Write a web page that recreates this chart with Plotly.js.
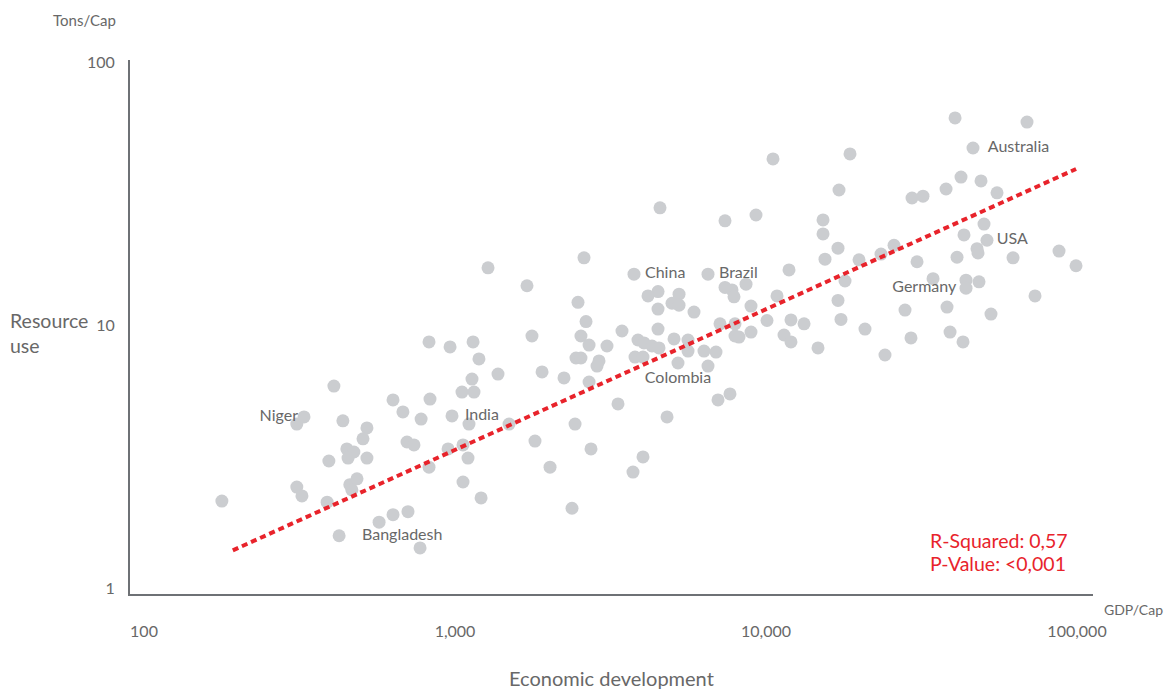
<!DOCTYPE html>
<html>
<head>
<meta charset="utf-8">
<script src="https://cdn.plot.ly/plotly-3.0.1.min.js"></script>
<style>
  html, body { margin: 0; padding: 0; background: #ffffff; }
  #chart { width: 1165px; height: 689px; }
</style>
</head>
<body>
<div id="chart"></div>
<script>
// GDP per capita (US$) and resource use (tons per capita)
const gdp = [
  178, 310, 327, 310, 322, 408, 393, 388, 424, 436,
  449, 473, 453, 521, 506, 521, 459, 484, 466, 570,
  632, 706, 772, 632, 680, 778, 831, 701, 738, 950,
  1061, 1101, 825, 1061, 1213, 978, 1109, 1492, 1053, 1151,
  1134, 1375, 1194, 825, 964, 1143, 1277, 2599, 1704, 2486,
  2638, 1768, 2541, 2698, 3081, 3443, 2449, 2541, 2904, 2862,
  1905, 2241, 2698, 2432, 1808, 2737, 2021, 2378, 3343, 4806,
  4022, 3735, 3763, 6509, 11857, 4496, 4174, 5252, 4985, 5252,
  4496, 5868, 4496, 7382, 7776, 7891, 8625, 8949, 10850, 7113,
  7949, 7949, 8189, 8949, 10074, 12030, 13253, 11427, 12030, 14696,
  3876, 4052, 4299, 4529, 3791, 4022, 5061, 5614, 5614, 6318,
  6906, 5212, 6509, 7009, 7659, 10531, 18625, 17168, 4562, 7382,
  9286, 15253, 15253, 17040, 15478, 29480, 31970, 25800, 23430, 19910,
  30590, 34440, 17950, 17040, 17420, 20810, 27990, 29250, 24130, 40540,
  69060, 46300, 42360, 49130, 37920, 55310, 50230, 43310, 51350, 47700,
  48050, 41130, 62270, 87530, 99270, 43960, 43960, 48400, 73280, 38200,
  52890, 39060, 43000
];
const resource = [
  2.14, 4.20, 4.47, 2.42, 2.24, 5.86, 3.04, 2.12, 1.58, 4.32,
  3.38, 3.29, 3.12, 4.06, 3.69, 3.12, 2.47, 2.60, 2.36, 1.78,
  1.90, 1.95, 1.42, 5.19, 4.67, 4.39, 5.23, 3.59, 3.50, 3.38,
  3.50, 3.12, 2.88, 2.53, 2.20, 4.51, 4.20, 4.20, 5.56, 5.56,
  6.23, 6.51, 7.43, 8.62, 8.25, 8.62, 16.5, 18.0, 14.1, 12.2,
  10.3, 9.08, 9.08, 8.39, 8.32, 9.49, 7.49, 7.49, 7.30, 6.98,
  6.63, 6.29, 6.07, 4.20, 3.62, 3.38, 2.88, 2.01, 5.01, 4.47,
  3.15, 2.76, 15.6, 15.6, 16.2, 13.4, 12.9, 13.1, 12.1, 11.9,
  11.5, 11.2, 9.65, 13.9, 13.6, 12.8, 14.3, 11.8, 12.9, 10.1,
  10.1, 9.08, 9.00, 9.40, 10.4, 10.45, 10.1, 9.16, 8.62, 8.18,
  8.77, 8.55, 8.32, 8.18, 7.55, 7.55, 8.85, 8.77, 7.96, 7.96,
  7.89, 7.17, 6.98, 5.19, 5.47, 42.8, 44.7, 32.6, 27.9, 24.9,
  26.2, 25.1, 22.2, 19.6, 17.8, 30.4, 30.9, 20.1, 18.6, 17.7,
  17.4, 15.0, 14.7, 12.4, 10.5, 9.65, 11.4, 8.93, 7.69, 61.3,
  59.1, 47.1, 36.5, 35.3, 32.9, 31.8, 24.2, 22.0, 21.0, 19.5,
  18.8, 18.1, 18.0, 19.1, 16.8, 14.8, 13.8, 14.6, 12.9, 11.7,
  11.0, 9.40, 8.62
];

// Labelled countries
const labelNames = ["Niger", "India", "Bangladesh", "China", "Brazil", "Colombia", "Germany", "USA", "Australia"];
const labelGdp = [327, 978, 424, 3763, 6509, 5212, 43960, 51350, 46300];
const labelRes = [4.47, 4.51, 1.58, 15.6, 15.6, 7.17, 13.8, 21.0, 47.1];
const labelPos = ["middle left", "middle right", "middle right", "middle right", "middle right",
                  "bottom center", "middle left", "middle right", "middle right"];
// label gap from its dot (invisible spacer size, styling only)
const labelGap = [8, 19, 35, 16, 16, 11, 14, 14, 22];

// Regression line end points
const trendGdp = [193, 99300];
const trendRes = [1.39, 39.2];

// Axis ticks
const xTickVals = [100, 1000, 10000, 100000];
const xTickText = ["100", "1,000", "10,000", "100,000"];
const yTickVals = [1, 10, 100];
const yTickText = ["1", "10", "100"];

const statsText = ["R-Squared: 0,57", "P-Value: <0,001"];

const FONT = "Lato, 'Open Sans', sans-serif";
const GREY_TEXT = "#686868";
const RED = "#e8232b";

const traces = [
  {
    type: "scatter", mode: "markers",
    x: gdp, y: resource,
    marker: { size: 13, color: "#cbcdd0", line: { width: 0 } },
    hoverinfo: "skip", showlegend: false
  },
  {
    type: "scatter", mode: "lines",
    x: trendGdp, y: trendRes,
    line: { color: RED, width: 4, dash: "6px,4px" },
    hoverinfo: "skip", showlegend: false
  },
  {
    type: "scatter", mode: "markers+text",
    x: labelGdp, y: labelRes, text: labelNames,
    textposition: labelPos,
    marker: { size: labelGap, opacity: 0 },
    textfont: { family: FONT, size: 16, color: GREY_TEXT },
    hoverinfo: "skip", showlegend: false, cliponaxis: false
  }
];

const layout = {
  width: 1165, height: 689,
  margin: { l: 130, r: 72, t: 60, b: 95 },
  paper_bgcolor: "#ffffff", plot_bgcolor: "#ffffff",
  font: { family: FONT, color: GREY_TEXT },
  showlegend: false,
  xaxis: {
    type: "log", range: [1.955, 5.0514],
    tickvals: xTickVals, ticktext: xTickText,
    ticks: "", showgrid: false, zeroline: false,
    showline: true, linecolor: "#6e7175", linewidth: 2,
    tickfont: { family: FONT, size: 16, color: GREY_TEXT },
    ticklabelstandoff: 22
  },
  yaxis: {
    type: "log", range: [-0.0228, 2.0076],
    tickvals: yTickVals, ticktext: yTickText,
    ticks: "", showgrid: false, zeroline: false,
    showline: true, linecolor: "#6e7175", linewidth: 2,
    tickfont: { family: FONT, size: 16, color: GREY_TEXT },
    ticklabelstandoff: 10
  },
  annotations: [
    { text: "Tons/Cap", xref: "paper", yref: "paper", x: -0.0125, y: 1.0749,
      xanchor: "right", yanchor: "middle", showarrow: false,
      font: { family: FONT, size: 15, color: GREY_TEXT } },
    { text: "Resource<br>use", xref: "paper", yref: "paper", x: -0.1267, y: 0.4888,
      xanchor: "left", yanchor: "middle", align: "left", showarrow: false,
      font: { family: FONT, size: 19.5, color: GREY_TEXT } },
    { text: "GDP/Cap", xref: "paper", yref: "paper", x: 1.0093, y: -0.0281,
      xanchor: "left", yanchor: "middle", showarrow: false,
      font: { family: FONT, size: 14, color: GREY_TEXT } },
    { text: "Economic development", xref: "paper", yref: "paper", x: 0.5, y: -0.1573,
      xanchor: "center", yanchor: "middle", showarrow: false,
      font: { family: FONT, size: 20, color: GREY_TEXT } },
    { text: statsText[0], xref: "paper", yref: "paper", x: 0.8287, y: 0.0993,
      xanchor: "left", yanchor: "middle", showarrow: false,
      font: { family: FONT, size: 19.5, color: RED } },
    { text: statsText[1], xref: "paper", yref: "paper", x: 0.8287, y: 0.0562,
      xanchor: "left", yanchor: "middle", showarrow: false,
      font: { family: FONT, size: 19.5, color: RED } }
  ]
};

Plotly.newPlot("chart", traces, layout, { displayModeBar: false, staticPlot: true });
</script>
</body>
</html>
